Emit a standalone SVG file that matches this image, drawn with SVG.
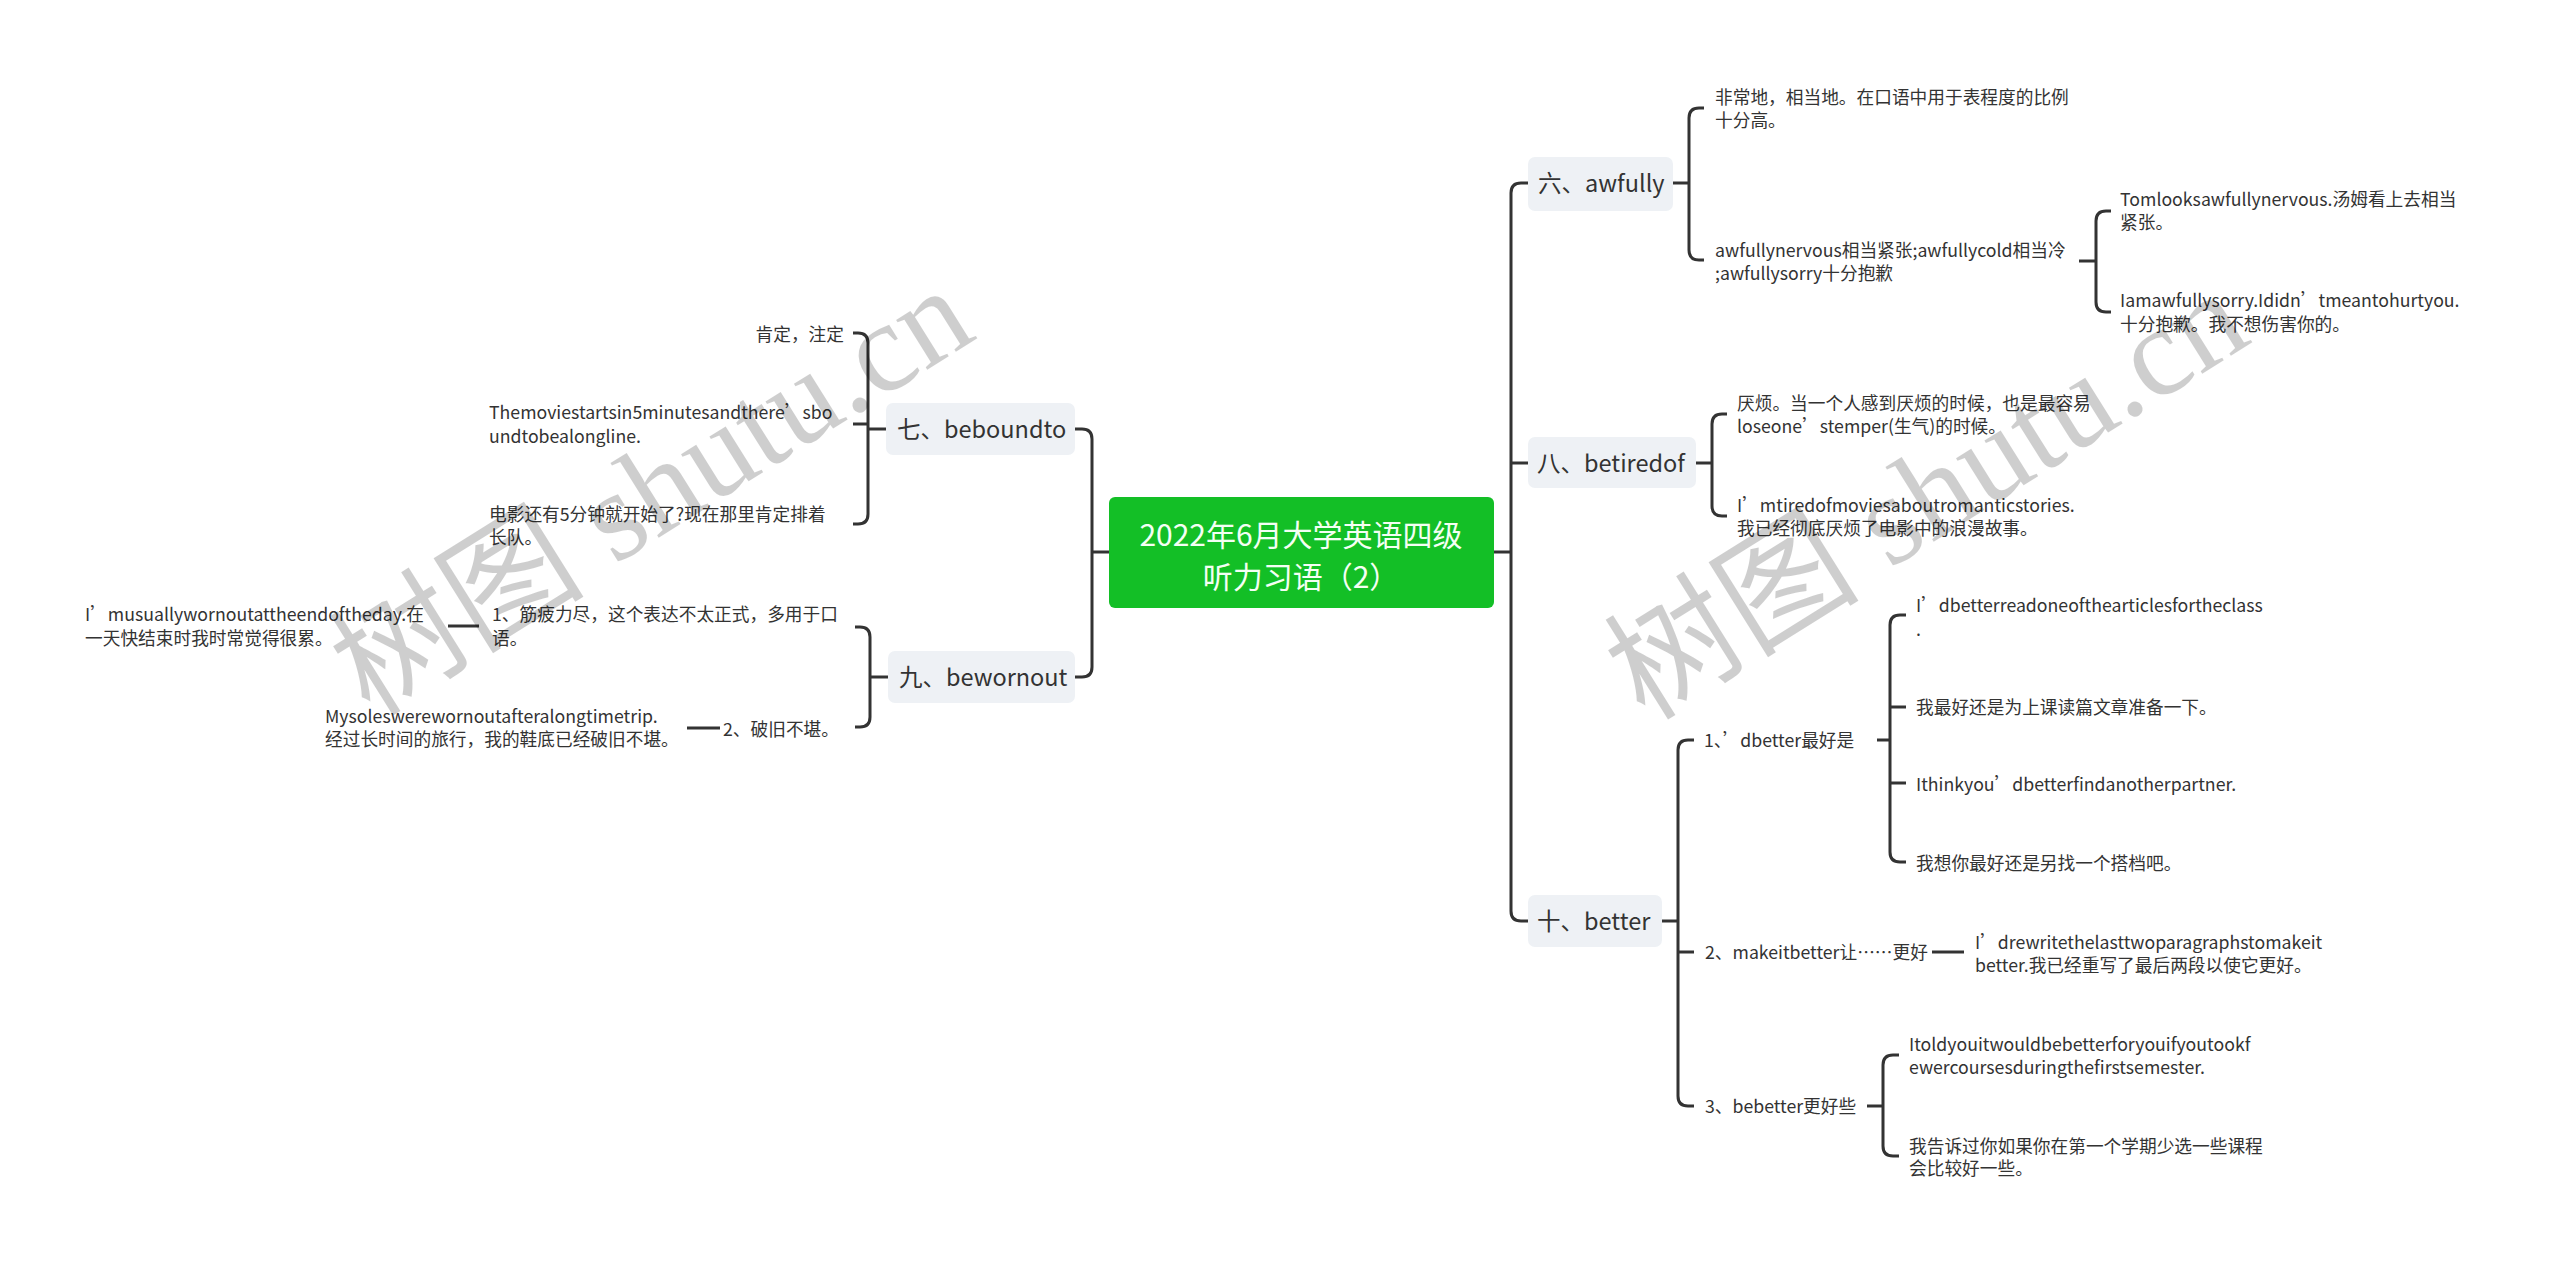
<svg xmlns="http://www.w3.org/2000/svg" width="2560" height="1263" viewBox="0 0 2560 1263">
<style>
.t{font-family:"Noto Sans CJK SC","Noto Sans",sans-serif;font-size:17.7px;fill:#333}
.n{font-family:"Noto Sans CJK SC","Noto Sans",sans-serif;font-size:23.5px;fill:#333}
.c{font-family:"Noto Sans CJK SC","Noto Sans",sans-serif;font-size:30px;fill:#f4fff4;text-anchor:middle}
.r{text-anchor:end}
.box{fill:#eef1f5}
.ln{stroke:#333;stroke-width:3;fill:none}
.wm{font-family:"Liberation Serif","Noto Sans CJK SC",serif;font-size:128px;fill:#000;opacity:0.19}
</style>
<rect width="2560" height="1263" fill="#fff"/>
<g id="connectors" class="ln">
<path d="M1494,552 H1511"/>
<path d="M1528,183 H1521 Q1511,183 1511,193 V911 Q1511,921 1521,921 H1528"/>
<path d="M1511,463 H1528"/>
<path d="M1672,183 H1689"/>
<path d="M1704,108 H1699 Q1689,108 1689,118 V250 Q1689,260 1699,260 H1704"/>
<path d="M2079,261 H2096"/>
<path d="M2111,211 H2106 Q2096,211 2096,221 V302 Q2096,312 2106,312 H2111"/>
<path d="M1696,463 H1712"/>
<path d="M1727,414 H1722 Q1712,414 1712,424 V506 Q1712,516 1722,516 H1727"/>
<path d="M1662,921 H1678"/>
<path d="M1694,740 H1688 Q1678,740 1678,750 V1096 Q1678,1106 1688,1106 H1694"/>
<path d="M1678,952 H1694"/>
<path d="M1877,740 H1890"/>
<path d="M1906,615 H1900 Q1890,615 1890,625 V852 Q1890,862 1900,862 H1906"/>
<path d="M1890,707 H1906"/>
<path d="M1890,783 H1906"/>
<path d="M1932,952 H1964"/>
<path d="M1867,1106 H1883"/>
<path d="M1899,1055 H1893 Q1883,1055 1883,1065 V1146 Q1883,1156 1893,1156 H1899"/>
<path d="M1109,552 H1092"/>
<path d="M1075,429 H1082 Q1092,429 1092,439 V667 Q1092,677 1082,677 H1075"/>
<path d="M886,429 H868"/>
<path d="M853,333 H858 Q868,333 868,343 V514 Q868,524 858,524 H853"/>
<path d="M868,424 H853"/>
<path d="M888,677 H870"/>
<path d="M855,627 H860 Q870,627 870,637 V717 Q870,727 860,727 H855"/>
<path d="M448,626 H479"/>
<path d="M687,728 H720"/>
</g>
<g id="center">
<rect x="1109" y="497" width="385" height="111" rx="6" fill="#13bf26"/>
<text class="c" x="1301" y="546">2022年6月大学英语四级</text>
<text class="c" x="1301" y="588">听力习语（2）</text>
</g>
<g id="n6">
<rect class="box" x="1528" y="157" width="145" height="54" rx="7"/>
<text class="n" x="1538" y="192">六、awfully</text>
</g>
<g id="n6a"><text class="t"><tspan x="1715" y="103.5">非常地，相当地。在口语中用于表程度的比例</tspan><tspan x="1715" y="126.5">十分高。</tspan></text></g>
<g id="n6b"><text class="t"><tspan x="1715" y="256.5">awfullynervous相当紧张;awfullycold相当冷</tspan><tspan x="1715" y="279.5">;awfullysorry十分抱歉</tspan></text></g>
<g id="n6b1"><text class="t"><tspan x="2120" y="205.5">Tomlooksawfullynervous.汤姆看上去相当</tspan><tspan x="2120" y="228.5">紧张。</tspan></text></g>
<g id="n6b2"><text class="t"><tspan x="2120" y="306.5">Iamawfullysorry.Ididn’tmeantohurtyou.</tspan><tspan x="2120" y="330.5">十分抱歉。我不想伤害你的。</tspan></text></g>
<g id="n8">
<rect class="box" x="1528" y="437" width="168" height="51" rx="7"/>
<text class="n" x="1537" y="472">八、betiredof</text>
</g>
<g id="n8a"><text class="t"><tspan x="1737" y="409.5">厌烦。当一个人感到厌烦的时候，也是最容易</tspan><tspan x="1737" y="432.5">loseone’stemper(生气)的时候。</tspan></text></g>
<g id="n8b"><text class="t"><tspan x="1737" y="511.5">I’mtiredofmoviesaboutromanticstories.</tspan><tspan x="1737" y="534.5">我已经彻底厌烦了电影中的浪漫故事。</tspan></text></g>
<g id="n10">
<rect class="box" x="1528" y="895" width="134" height="52" rx="7"/>
<text class="n" x="1537" y="930">十、better</text>
</g>
<g id="n10a"><text class="t" x="1704" y="746.5">1、’dbetter最好是</text></g>
<g id="n10a1"><text class="t"><tspan x="1916" y="611.5">I’dbetterreadoneofthearticlesfortheclass</tspan><tspan x="1916" y="635.5">.</tspan></text></g>
<g id="n10a2"><text class="t" x="1916" y="713.5">我最好还是为上课读篇文章准备一下。</text></g>
<g id="n10a3"><text class="t" x="1916" y="790.5">Ithinkyou’dbetterfindanotherpartner.</text></g>
<g id="n10a4"><text class="t" x="1916" y="869.5">我想你最好还是另找一个搭档吧。</text></g>
<g id="n10b"><text class="t" x="1705" y="958.5">2、makeitbetter让……更好</text></g>
<g id="n10b1"><text class="t"><tspan x="1975" y="948.5">I’drewritethelasttwoparagraphstomakeit</tspan><tspan x="1975" y="971.5">better.我已经重写了最后两段以使它更好。</tspan></text></g>
<g id="n10c"><text class="t" x="1705" y="1112.5">3、bebetter更好些</text></g>
<g id="n10c1"><text class="t"><tspan x="1909" y="1050.5">Itoldyouitwouldbebetterforyouifyoutookf</tspan><tspan x="1909" y="1073.5">ewercoursesduringthefirstsemester.</tspan></text></g>
<g id="n10c2"><text class="t"><tspan x="1909" y="1152.5">我告诉过你如果你在第一个学期少选一些课程</tspan><tspan x="1909" y="1174.5">会比较好一些。</tspan></text></g>
<g id="n7">
<rect class="box" x="886" y="403" width="189" height="52" rx="7"/>
<text class="n" x="897" y="438">七、beboundto</text>
</g>
<g id="n7a"><text class="t r" x="844" y="340.5">肯定，注定</text></g>
<g id="n7b"><text class="t"><tspan x="489" y="418.5">Themoviestartsin5minutesandthere’sbo</tspan><tspan x="489" y="442.5">undtobealongline.</tspan></text></g>
<g id="n7c"><text class="t"><tspan x="489" y="520.5">电影还有5分钟就开始了?现在那里肯定排着</tspan><tspan x="489" y="543.5">长队。</tspan></text></g>
<g id="n9">
<rect class="box" x="888" y="651" width="187" height="52" rx="7"/>
<text class="n" x="899" y="686">九、bewornout</text>
</g>
<g id="n9a"><text class="t"><tspan x="492" y="620.5">1、筋疲力尽，这个表达不太正式，多用于口</tspan><tspan x="492" y="644.5">语。</tspan></text></g>
<g id="n9a1"><text class="t"><tspan x="85" y="620.5">I’musuallywornoutattheendoftheday.在</tspan><tspan x="85" y="644.5">一天快结束时我时常觉得很累。</tspan></text></g>
<g id="n9b"><text class="t r" x="839" y="735.5">2、破旧不堪。</text></g>
<g id="n9b1"><text class="t"><tspan x="325" y="722.5">Mysoleswerewornoutafteralongtimetrip.</tspan><tspan x="325" y="745.5">经过长时间的旅行，我的鞋底已经破旧不堪。</tspan></text></g>
<g id="watermark">
<text class="wm" transform="translate(370,718) rotate(-32)">树图 shutu.cn</text>
<text class="wm" transform="translate(1645,722) rotate(-32)">树图 shutu.cn</text>
</g>
</svg>
